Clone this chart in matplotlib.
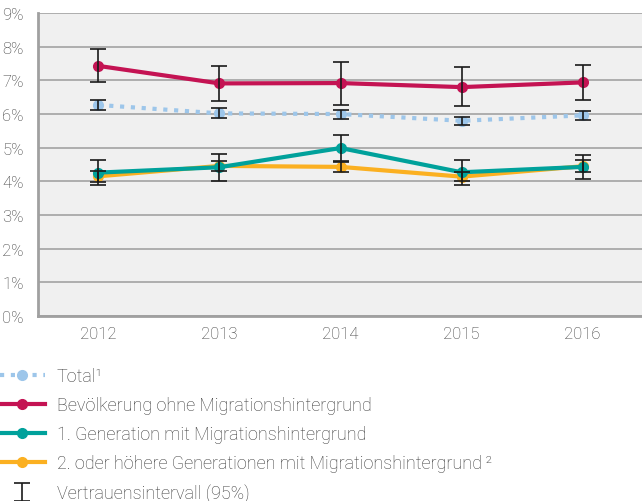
import numpy as np
import matplotlib.pyplot as plt

plt.rcParams['font.family'] = ['Roboto', 'DejaVu Sans']
plt.rcParams['font.weight'] = 'light'

# data (percent)
years = [2012, 2013, 2014, 2015, 2016]

total = [6.27, 6.02, 6.00, 5.80, 5.96]
total_lo = [6.13, 5.89, 5.86, 5.67, 5.83]
total_hi = [6.42, 6.17, 6.12, 5.92, 6.09]

ohne = [7.43, 6.91, 6.92, 6.80, 6.94]
ohne_lo = [6.94, 6.39, 6.28, 6.23, 6.41]
ohne_hi = [7.94, 7.43, 7.56, 7.40, 7.46]

gen1 = [4.26, 4.42, 4.99, 4.27, 4.43]
gen1_lo = [3.88, 4.02, 4.60, 3.90, 4.07]
gen1_hi = [4.64, 4.81, 5.37, 4.63, 4.78]

gen2 = [4.15, 4.46, 4.43, 4.14, 4.45]
gen2_lo = [3.99, 4.30, 4.27, 4.00, 4.29]
gen2_hi = [4.30, 4.61, 4.59, 4.28, 4.63]

labels = ['Total\u00b9',
          'Bevölkerung ohne Migrationshintergrund',
          '1. Generation mit Migrationshintergrund',
          '2. oder höhere Generationen mit Migrationshintergrund\u2009\u00b2',
          'Vertrauensintervall (95%)']

c_total = '#9dc6ea'
c_ohne = '#c41353'
c_gen1 = '#00a19b'
c_gen2 = '#fbb021'
txt = '#3a3a3a'

fig = plt.figure(figsize=(6.42, 5.02), dpi=100)
ax = fig.add_axes([0.059, 0.3685, 0.941, 0.6035])
ax.set_facecolor('#f0f0f0')

x = np.array(years)
h_total, = ax.plot(x, total, color=c_total, lw=3, ls=(0, (1, 1.6)),
                   marker='o', ms=7, zorder=3)
h_ohne, = ax.plot(x, ohne, color=c_ohne, lw=3, marker='o', ms=7, zorder=3)
h_gen2, = ax.plot(x, gen2, color=c_gen2, lw=3, marker='o', ms=7, zorder=3)
h_gen1, = ax.plot(x, gen1, color=c_gen1, lw=3, marker='o', ms=7, zorder=4)

for val, lo, hi in [(total, total_lo, total_hi), (ohne, ohne_lo, ohne_hi),
                    (gen1, gen1_lo, gen1_hi), (gen2, gen2_lo, gen2_hi)]:
    val = np.array(val)
    err = [val - np.array(lo), np.array(hi) - val]
    eb = ax.errorbar(x, val, yerr=err, fmt='none', ecolor='#1a1a1a',
                     elinewidth=1.2, capsize=5.5, capthick=1.2, zorder=5)

ax.set_xlim(years[0] - 0.5, years[-1] + 0.49)
ax.set_ylim(0, 9)
ax.set_xticks(years)
ax.set_yticks(range(0, 10))
ax.set_yticklabels([f'{v}%' for v in range(0, 10)])
ax.yaxis.grid(True, color='#a8a8a8', lw=1.3)
ax.set_axisbelow(True)
ax.tick_params(length=0, labelsize=12, labelcolor=txt)
ax.tick_params(axis='y', pad=10)
ax.tick_params(axis='x', pad=7)
for s in ['top', 'right']:
    ax.spines[s].set_visible(False)
for s in ['left', 'bottom']:
    ax.spines[s].set_color('#a0a0a0')
    ax.spines[s].set_linewidth(2)

fig.legend([h_total, h_ohne, h_gen1, h_gen2, eb], labels,
           loc='upper left', bbox_to_anchor=(-0.012, 0.281), frameon=False,
           fontsize=13, handlelength=2.5, handletextpad=0.66,
           labelspacing=0.61, borderaxespad=0, labelcolor=txt)

fig.savefig('out.png', dpi=100)
